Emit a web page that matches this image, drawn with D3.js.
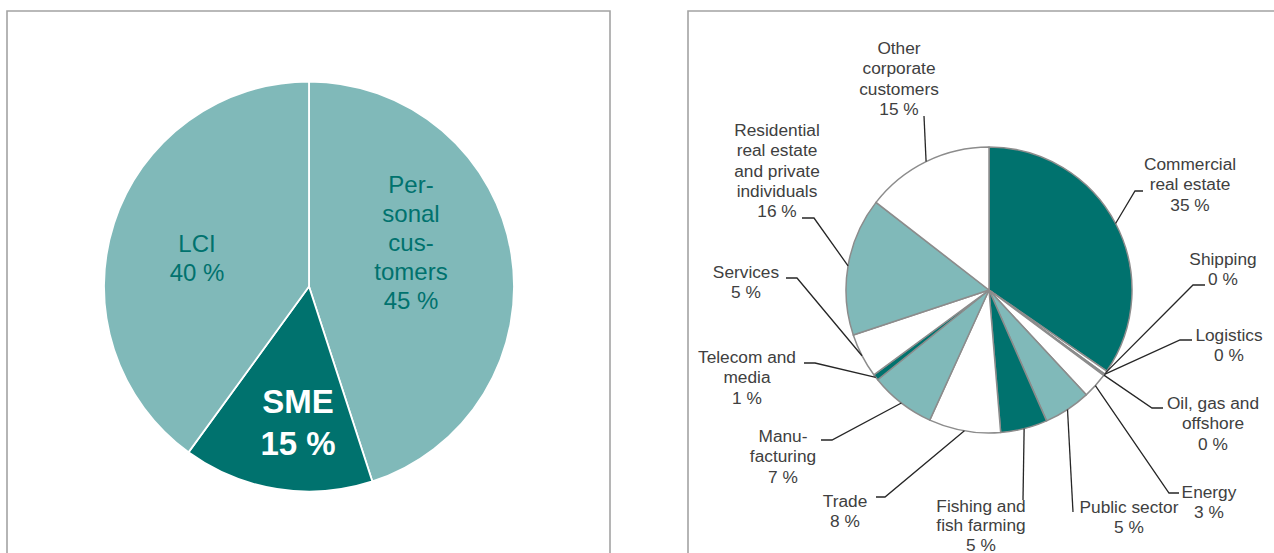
<!DOCTYPE html>
<html>
<head>
<meta charset="utf-8">
<script src="https://cdn.jsdelivr.net/npm/d3@7"></script>
<style>
  html, body { margin: 0; padding: 0; background: #ffffff; }
  svg { display: block; font-family: "Liberation Sans", Arial, sans-serif; }
</style>
</head>
<body>
<svg id="chart" width="1274" height="553"></svg>
<script>
// Left chart: loan book split by customer segment
const segmentNames = ["Personal customers", "SME", "LCI"];
const segmentLines = [["Per-", "sonal", "cus-", "tomers"], ["SME"], ["LCI"]];
const segmentShares = [45, 15, 40];
const segmentColors = ["#80b9b9", "#00726e", "#80b9b9"];

// Right chart: corporate exposure split by sector
const sectorNames = [
  "Commercial real estate", "Shipping", "Logistics", "Oil, gas and offshore",
  "Energy", "Public sector", "Fishing and fish farming", "Trade",
  "Manufacturing", "Telecom and media", "Services",
  "Residential real estate and private individuals", "Other corporate customers"
];
const sectorLines = [
  ["Commercial", "real estate"], ["Shipping"], ["Logistics"], ["Oil, gas and", "offshore"],
  ["Energy"], ["Public sector"], ["Fishing and", "fish farming"], ["Trade"],
  ["Manu-", "facturing"], ["Telecom and", "media"], ["Services"],
  ["Residential", "real estate", "and private", "individuals"], ["Other", "corporate", "customers"]
];
const sectorShares = [34.6, 0.4, 0.1, 0.1, 2.9, 5.3, 5.3, 8.1, 7.4, 0.7, 5.0, 15.6, 14.5];
const sectorColors = [
  "#00726e", "#ffffff", "#80b9b9", "#00726e", "#ffffff", "#80b9b9", "#00726e",
  "#ffffff", "#80b9b9", "#00726e", "#ffffff", "#80b9b9", "#ffffff"
];

const pct = v => Math.round(v) + " %";
const svg = d3.select("#chart");

// panel frames
svg.append("path")
  .attr("d", "M7,560 V11 H610 V560")
  .attr("fill", "none").attr("stroke", "#a3a3a3").attr("stroke-width", 1.6);
svg.append("path")
  .attr("d", "M688,560 V11 H1280")
  .attr("fill", "none").attr("stroke", "#a3a3a3").attr("stroke-width", 1.6);

// ---------- left pie ----------
const leftCenter = [309, 286.5];
const leftRadius = 205;
const leftPie = d3.pie().sort(null).value(d => d)(segmentShares);
const leftArc = d3.arc().innerRadius(0).outerRadius(leftRadius);

const gl = svg.append("g").attr("transform", `translate(${leftCenter})`);
gl.selectAll("path").data(leftPie).join("path")
  .attr("d", leftArc)
  .attr("fill", (d, i) => segmentColors[i])
  .attr("stroke", "#ffffff").attr("stroke-width", 1.8);

// label blocks: centre x and first baseline, relative to the pie centre
const leftLabelPos = [
  { x: 102, y: -93.5, size: 24, lh: 29, weight: "normal", color: "#00726e" },
  { x: -11, y: 126.5, size: 33, lh: 42, weight: "bold", color: "#ffffff" },
  { x: -112, y: -34.5, size: 24, lh: 29, weight: "normal", color: "#00726e" }
];
leftPie.forEach((d, i) => {
  const p = leftLabelPos[i];
  const lines = segmentLines[i].concat([pct(d.data)]);
  const t = gl.append("text")
    .attr("text-anchor", "middle")
    .attr("font-size", p.size)
    .attr("font-weight", p.weight)
    .attr("fill", p.color);
  lines.forEach((s, k) => {
    t.append("tspan").attr("x", p.x).attr("y", p.y + k * p.lh).text(s);
  });
});

// ---------- right pie ----------
const rightCenter = [989, 290];
const rightRadius = 143;
const rightPie = d3.pie().sort(null).value(d => d)(sectorShares);
const rightArc = d3.arc().innerRadius(0).outerRadius(rightRadius);

const gr = svg.append("g");
gr.append("g").attr("transform", `translate(${rightCenter})`)
  .selectAll("path").data(rightPie).join("path")
  .attr("d", rightArc)
  .attr("fill", (d, i) => sectorColors[i])
  .attr("stroke", "#8c8c8c").attr("stroke-width", 1.5)
  .attr("stroke-linejoin", "round");

// label placement: text centre x, first baseline y, line step, leader bend points
const sectorLabelPos = [
  { x: 1190, y: 170, lh: 20.3, leader: [[1135, 191], [1143, 191]] },
  { x: 1223, y: 265, lh: 20.3, leader: [[1193, 285], [1205, 285]] },
  { x: 1229, y: 341, lh: 20.3, leader: [[1180, 340], [1192, 340]] },
  { x: 1213, y: 409, lh: 20.3, leader: [[1152, 408], [1163, 408]] },
  { x: 1209, y: 498, lh: 20.3, leader: [[1169, 493], [1179, 493]] },
  { x: 1129, y: 513, lh: 20.3, leader: [[1073, 512]] },
  { x: 981, y: 512, lh: 19.4, leader: [[1023, 500]] },
  { x: 845, y: 507, lh: 20.3, leader: [[885, 497], [876, 497]] },
  { x: 783, y: 442, lh: 20.3, leader: [[832, 440], [821, 440]] },
  { x: 747, y: 363, lh: 20.3, leader: [[815, 363], [804, 363]] },
  { x: 746, y: 278, lh: 20.3, leader: [[797, 278], [786, 278]] },
  { x: 777, y: 136, lh: 20.3, leader: [[814, 218], [802, 218]] },
  { x: 899, y: 54, lh: 20.3, leader: [[924, 116]] }
];

const lineGen = d3.line();
rightPie.forEach((d, i) => {
  const mid = (d.startAngle + d.endAngle) / 2;
  const edge = [
    rightCenter[0] + rightRadius * Math.sin(mid),
    rightCenter[1] - rightRadius * Math.cos(mid)
  ];
  const p = sectorLabelPos[i];
  gr.append("path")
    .attr("d", lineGen([edge].concat(p.leader)))
    .attr("fill", "none").attr("stroke", "#262626").attr("stroke-width", 1.3);

  const lines = sectorLines[i].concat([pct(d.data)]);
  const t = gr.append("text")
    .attr("text-anchor", "middle")
    .attr("font-size", 17.3)
    .attr("fill", "#404040");
  lines.forEach((s, k) => {
    t.append("tspan").attr("x", p.x).attr("y", p.y + k * p.lh).text(s);
  });
});
</script>
</body>
</html>
